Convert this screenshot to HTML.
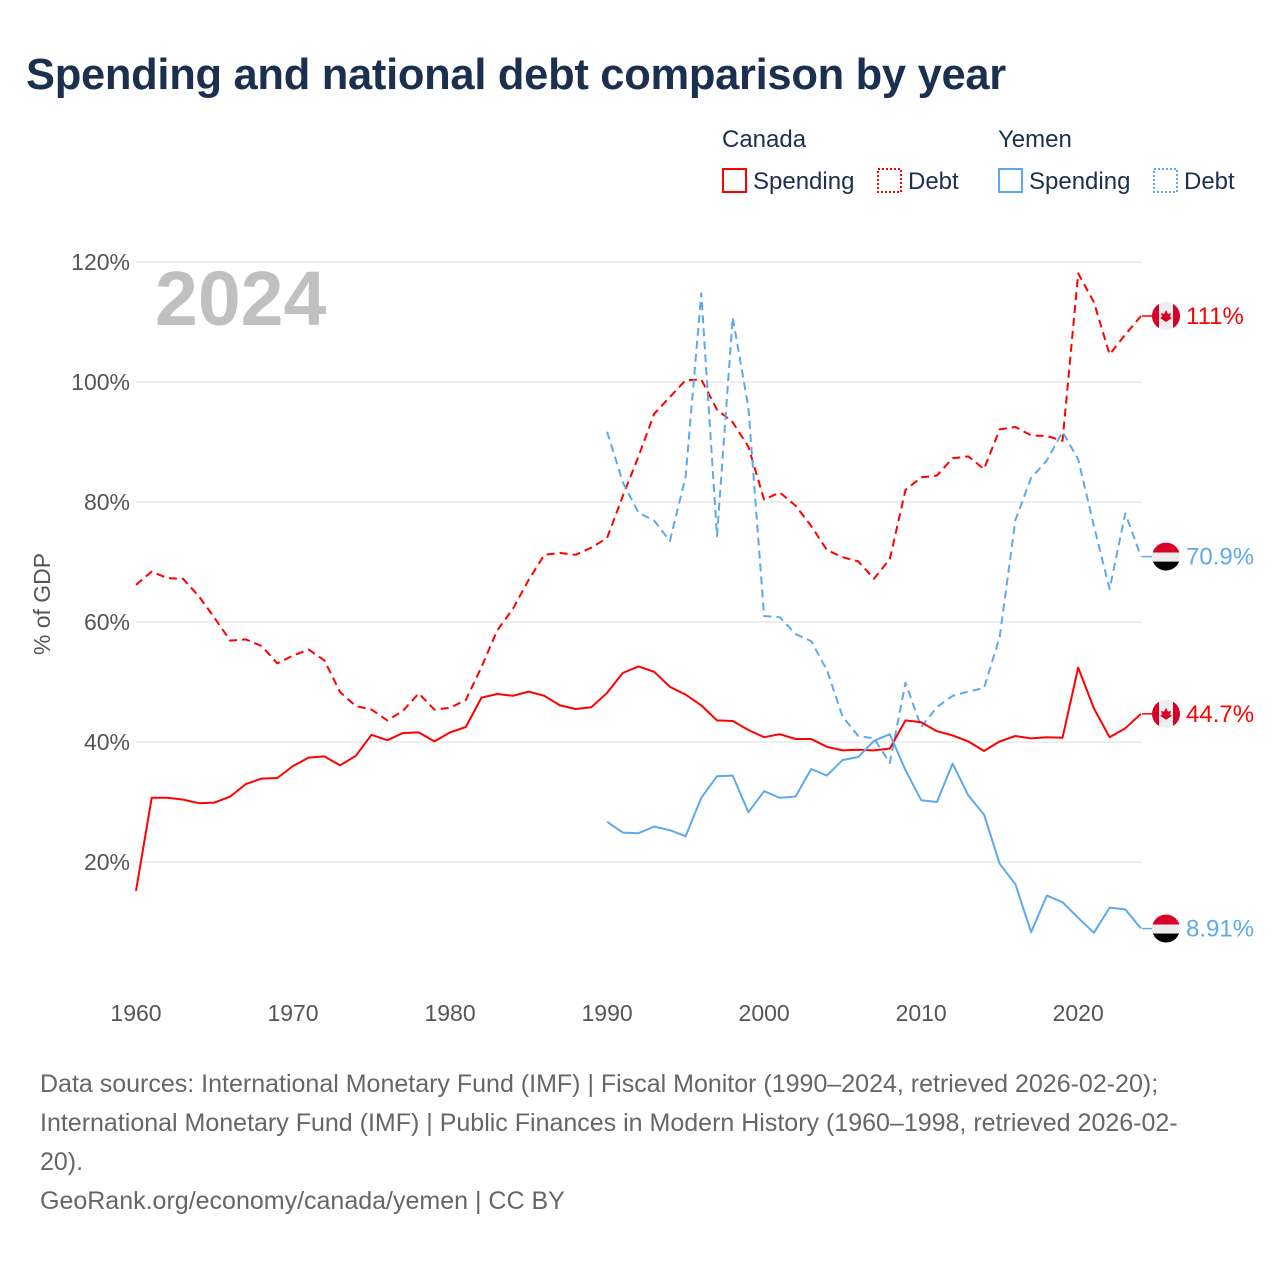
<!DOCTYPE html>
<html><head><meta charset="utf-8"><style>
body{margin:0;background:#fff;font-family:"Liberation Sans",sans-serif;}
#wrap{position:relative;width:1280px;height:1280px;overflow:hidden;}
h1{position:absolute;left:26px;top:51px;margin:0;font-size:43.5px;font-weight:bold;color:#1b2f4e;letter-spacing:-0.3px;}
.foot{position:absolute;left:40px;top:1065px;width:1200px;font-size:25px;line-height:39px;color:#666;}
</style></head><body>
<div id="wrap">
<h1>Spending and national debt comparison by year</h1>
<svg id="chart" width="1280" height="1280" style="position:absolute;left:0;top:0"></svg>
<div class="foot">Data sources: International Monetary Fund (IMF) | Fiscal Monitor (1990–2024, retrieved 2026-02-20);<br>International Monetary Fund (IMF) | Public Finances in Modern History (1960–1998, retrieved 2026-02-<br>20).<br>GeoRank.org/economy/canada/yemen | CC BY</div>
</div>
<script>
const canadaYears=[];for(let y=1960;y<=2024;y++)canadaYears.push(y);
const yemenYears=[];for(let y=1990;y<=2024;y++)yemenYears.push(y);
const canadaSpending=[15.2,30.7,30.7,30.4,29.8,29.9,30.9,33,33.9,34,36,37.4,37.6,36.1,37.7,41.2,40.3,41.5,41.6,40.1,41.6,42.5,47.4,48,47.7,48.4,47.7,46.1,45.5,45.8,48.2,51.5,52.6,51.7,49.2,47.9,46.1,43.6,43.5,42,40.8,41.3,40.5,40.5,39.2,38.6,38.7,38.6,38.9,43.6,43.3,41.8,41.1,40.1,38.5,40.1,41.0,40.6,40.8,40.7,52.4,45.6,40.8,42.3,44.7];
const canadaDebt=[66.2,68.4,67.3,67.2,64.3,60.7,56.9,57.1,56.0,53.1,54.4,55.4,53.6,48.3,46.0,45.4,43.6,45.2,48.1,45.4,45.7,47.0,52.5,58.6,62.2,67.0,71.2,71.5,71.2,72.4,74.0,81.0,87.6,94.7,97.5,100.3,100.4,95.4,93.3,89.2,80.4,81.6,79.4,76.0,72.0,70.8,70.1,67.2,70.5,82.0,84.1,84.4,87.3,87.6,85.5,92.1,92.5,91.1,91.0,90.2,118.1,113.3,104.6,107.9,111.0];
const yemenSpending=[26.7,24.9,24.8,25.9,25.3,24.3,30.7,34.3,34.4,28.3,31.8,30.7,30.9,35.5,34.4,37.0,37.5,40.2,41.3,35.3,30.3,30.0,36.4,31.1,27.9,19.7,16.3,8.3,14.4,13.3,10.7,8.2,12.4,12.1,8.91];
const yemenDebt=[91.7,83.3,78.2,76.9,73.5,84.2,114.8,74.3,110.8,95.7,61.0,60.8,58.0,56.8,52.0,44.2,41.0,40.6,36.5,49.9,42.5,45.8,47.7,48.4,49.0,57.5,77.0,84.0,86.9,91.7,87.1,76.0,65.5,78.1,70.9];
const yTicks=[20,40,60,80,100,120];
const xTicks=[1960,1970,1980,1990,2000,2010,2020];
const endLabels=["111%","70.9%","44.7%","8.91%"];

const NS="http://www.w3.org/2000/svg";
const svg=document.getElementById('chart');
const X=y=>136+(y-1960)*(1141-136)/64;
const Y=v=>982-v*6;
function el(t,a,p){const e=document.createElementNS(NS,t);for(const k in a)e.setAttribute(k,a[k]);(p||svg).appendChild(e);return e;}
const RED="#ff0000",BLUE="#5ea9ee";
yTicks.forEach(t=>{
 const g=el('line',{x1:136,x2:1142,y1:Y(t),y2:Y(t),stroke:'#e8e8e8','stroke-width':1.5});
 
 const tx=el('text',{x:130,y:Y(t)+8,'text-anchor':'end','font-size':23,fill:'#555'});tx.textContent=t+'%';
 
});
xTicks.forEach(t=>{
 const tx=el('text',{x:X(t),y:1021,'text-anchor':'middle','font-size':23,fill:'#555'});tx.textContent=t;
 
});
const yt=el('text',{x:0,y:0,transform:'translate(50,604) rotate(-90)','text-anchor':'middle','font-size':23,fill:'#555'});yt.textContent='% of GDP';

const yr=el('text',{x:155,y:325,'font-size':77,'font-weight':'bold',fill:'#c0c0c0'});yr.textContent='2024';

function series(years,vals,color,dash,name){
 const d=vals.map((v,i)=>(i?'L':'M')+X(years[i]).toFixed(1)+','+Y(v).toFixed(1)).join('');
 const p=el('path',{d:d,fill:'none',stroke:color,'stroke-width':2,'stroke-dasharray':dash||'none','stroke-linejoin':'round'});
 
}
series(canadaYears,canadaDebt,RED,'8,5','canada-debt-line');
series(yemenYears,yemenDebt,BLUE,'8,5','yemen-debt-line');
series(canadaYears,canadaSpending,RED,null,'canada-spending-line');
series(yemenYears,yemenSpending,BLUE,null,'yemen-spending-line');
function flag(cx,cy,country){
 const g=el('g',{});
 const id='c'+Math.round(cy);const cp=el('clipPath',{id:id},g);el('circle',{cx:cx,cy:cy,r:14},cp);
 const gg=el('g',{'clip-path':'url(#'+id+')'},g);
 if(country==='canada'){el('rect',{x:cx-14,y:cy-14,width:28,height:28,fill:'#eee'},gg);el('rect',{x:cx-14,y:cy-14,width:7,height:28,fill:'#d80027'},gg);el('rect',{x:cx+7,y:cy-14,width:7,height:28,fill:'#d80027'},gg);el('path',{d:`M${cx},${cy-6}l2,4l3,-1l-1,4l2,1l-6,4l-6,-4l2,-1l-1,-4l3,1z`,fill:'#d80027'},gg);}
 else{el('rect',{x:cx-14,y:cy-14,width:28,height:10,fill:'#d80027'},gg);el('rect',{x:cx-14,y:cy-4,width:28,height:9,fill:'#eee'},gg);el('rect',{x:cx-14,y:cy+5,width:28,height:10,fill:'#000'},gg);}
}
const ends=[[canadaDebt[64],RED,'canada'],[yemenDebt[34],BLUE,'yemen'],[canadaSpending[64],RED,'canada'],[yemenSpending[34],BLUE,'yemen']];
ends.forEach((e,i)=>{
 const y=Y(e[0]);
 el('line',{x1:1142,x2:1152,y1:y,y2:y,stroke:e[1],'stroke-width':1.5});
 flag(1166,y,e[2]);
 const t=el('text',{x:1186,y:y+8,'font-size':24,fill:e[1]});t.textContent=endLabels[i];
 
});
[[722,'Canada',RED],[998,'Yemen',BLUE]].forEach(([x,name,c])=>{
 const h=el('text',{x:x,y:147,'font-size':24,fill:'#1b2f4e'});h.textContent=name;
 
 const r1=el('rect',{x:x+1,y:169,width:23,height:23,fill:'none',stroke:c,'stroke-width':2});
 
 const t1=el('text',{x:x+31,y:189,'font-size':24,fill:'#1b2f4e'});t1.textContent='Spending';
 
 const r2=el('rect',{x:x+156,y:169,width:23,height:23,fill:'none',stroke:c,'stroke-width':2,'stroke-dasharray':'2,2'});
 
 const t2=el('text',{x:x+186,y:189,'font-size':24,fill:'#1b2f4e'});t2.textContent='Debt';
 
});
</script>
</body></html>
